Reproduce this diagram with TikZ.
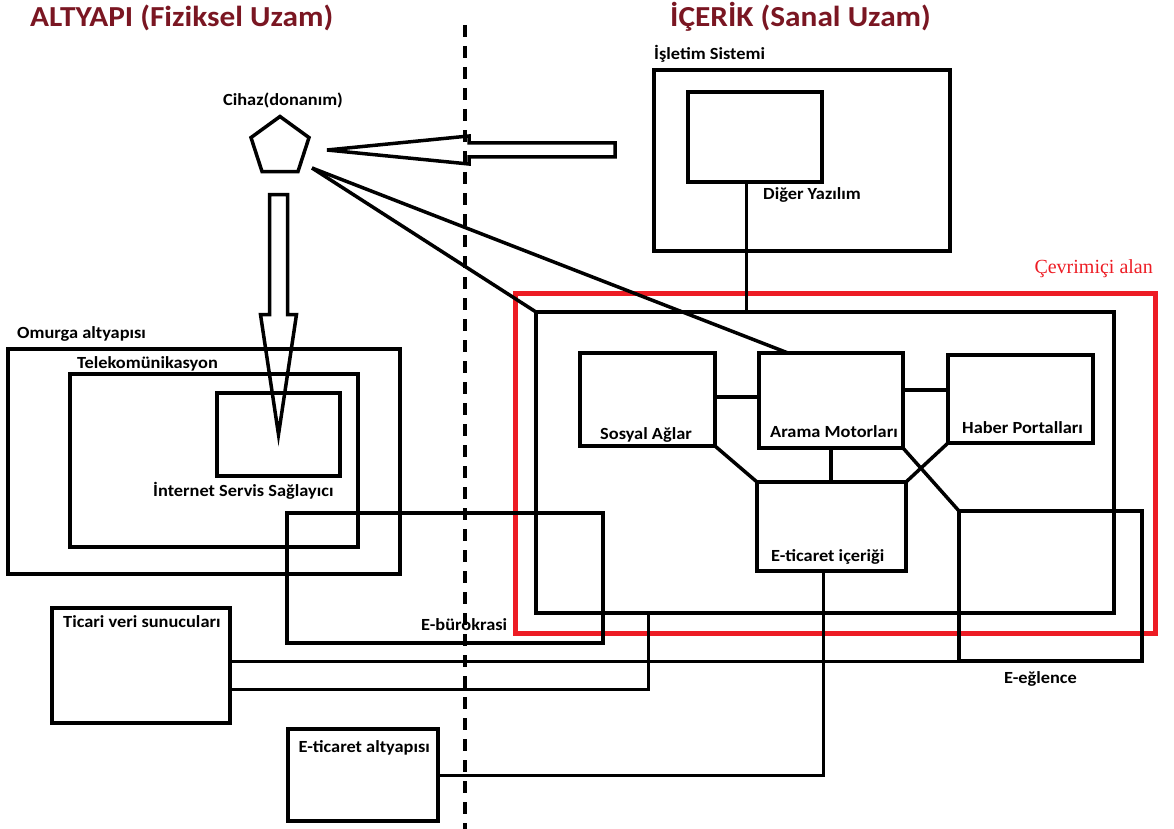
\documentclass[tikz,border=0pt]{standalone}
\usepackage{fontspec}
\setmainfont{Carlito}[FakeStretch=1.08]
\newfontfamily\serifyazi{Liberation Serif}
\usetikzlibrary{calc,shapes.geometric}
\definecolor{baslikrenk}{RGB}{122,22,34}
\definecolor{cevrimrenk}{RGB}{237,28,36}
\tikzset{
  kutu/.style={draw=black,line width=4pt,inner sep=0pt,outer sep=0pt},   % kutu
  etiket/.style={font=\fontsize{17}{20}\selectfont\bfseries,anchor=base west,inner sep=0pt},
  baslik/.style={font=\fontsize{29}{34}\selectfont\bfseries,text=baslikrenk,anchor=base west,inner sep=0pt},
  conn/.style={line width=3.5pt},
  wire/.style={line width=3pt},
  hollow/.style={draw,line width=3.5pt,line join=miter},
  divider/.style={line width=4pt,dash pattern=on 12pt off 9pt},
}

\begin{document}
\begin{tikzpicture}[x=1pt,y=-1pt]
  \useasboundingbox (0,0) rectangle (1174,829);
  % basliklar
  \node[baslik] (altyapi) at (30,27) {ALTYAPI (Fiziksel Uzam)};
  \node[baslik] (icerikbas) at (670,27) {İÇERİK (Sanal Uzam)};
  \draw[divider] (465,25) -- (465,829);

  % cevrimici alan
  \node[kutu,draw=cevrimrenk,line width=5pt,minimum width=640pt,minimum height=340pt] (cevrim) at (835,463) {};
  \node[font=\serifyazi\fontsize{20}{24}\selectfont,text=cevrimrenk,anchor=base east,inner sep=0pt] (lcevrim) at (1153,273) {Çevrimiçi alan};

  % isletim sistemi
  \node[kutu,minimum width=296pt,minimum height=181pt] (isletim) at (802,160.5) {};
  \node[kutu,minimum width=134pt,minimum height=90pt] (diger) at (755,137) {};
  \node[etiket] (lisletim) at (654,60) {İşletim Sistemi};
  \node[etiket] (ldiger) at (763,200) {Diğer Yazılım};

  % icerik
  \node[kutu,minimum width=578pt,minimum height=301pt] (icerik) at (825,462.5) {};
  \draw[conn] ([xshift=-8.5pt]diger.south) -- ([xshift=-8.5pt]diger.south |- icerik.north);
  \node[kutu,minimum width=135pt,minimum height=93pt] (sosyal) at (647.5,399.5) {};
  \node[kutu,minimum width=144pt,minimum height=95pt] (arama) at (831,400.5) {};
  \node[kutu,minimum width=145pt,minimum height=88pt] (haber) at (1020.5,399) {};
  \node[kutu,minimum width=149pt,minimum height=89pt] (eticic) at (831.5,526.5) {};
  \node[kutu,minimum width=183pt,minimum height=150pt] (eglence) at (1050.5,586) {};
  \node[etiket] (lsosyal) at (600,439) {Sosyal Ağlar};
  \node[etiket] (larama) at (770,437) {Arama Motorları};
  \node[etiket] (lhaber) at (962,433) {Haber Portalları};
  \node[etiket] (leticic) at (771,561) {E-ticaret içeriği};
  \node[etiket] (leglence) at (1004,683) {E-eğlence};
  \draw[conn] ([yshift=2.5pt]sosyal.east) -- ([yshift=2.5pt]sosyal.east -| arama.west);
  \draw[conn] ([yshift=10.5pt]arama.east) -- ([yshift=10.5pt]arama.east -| haber.west);
  \draw[conn] (arama.south) -- (arama.south |- eticic.north);
  \draw[conn] (sosyal.south east) -- (eticic.north west);
  \draw[conn] (haber.south west) -- (eticic.north east);
  \draw[conn] (arama.south east) -- (eglence.north west);

  % cihaz
  \node[etiket,anchor=base] (lcihaz) at (283,106) {Cihaz(donanım)};
  \node[draw,line width=3.5pt,regular polygon,regular polygon sides=5,minimum size=61pt,inner sep=0pt] (cihaz) at (280,147) {};
  \coordinate (htip) at (327,150);
  \coordinate (cz) at (312,168);
  \draw[hollow] (htip) -- ++(142,-14) -- ++(0,7) -- ++(146,0) -- ++(0,14) -- ++(-146,0) -- ++(0,7) -- cycle;
  \draw[conn] (cz) -- ([xshift=-43pt]arama.north);
  \draw[conn] (cz) -- (icerik.north west);

  % altyapi
  \node[etiket] (lomurga) at (17,338) {Omurga altyapısı};
  \node[kutu,minimum width=392pt,minimum height=225pt] (omurga) at (204,461.5) {};
  \node[etiket] (ltelekom) at (77,368) {Telekomünikasyon};
  \node[kutu,minimum width=288pt,minimum height=173pt] (telekom) at (214,460.5) {};
  \node[kutu,minimum width=123pt,minimum height=83pt] (isp) at (278.5,434.5) {};
  \node[etiket] (lisp) at (153,496) {İnternet Servis Sağlayıcı};
  \draw[hollow] (isp.center) -- ++(-18,-120) -- ++(9,0) -- ++(0,-120) -- ++(18,0) -- ++(0,120) -- ++(9,0) -- cycle;

  \node[kutu,line width=3.5pt,minimum width=316pt,minimum height=130pt] (burokrasi) at (445,578) {};
  \node[etiket] (lburokrasi) at (421,630) {E-bürokrasi};
  \node[kutu,minimum width=178pt,minimum height=115pt] (ticari) at (141,665.5) {};
  \node[etiket] (lticari) at (63,627) {Ticari veri sunucuları};
  \node[kutu,minimum width=150pt,minimum height=92pt] (etalt) at (363,775) {};
  \node[etiket] (letalt) at (298.5,752) {E-ticaret altyapısı};
  \draw[wire] (eglence.south west) -- (eglence.south west -| ticari.east);
  \draw[wire] ([yshift=-23.5pt]ticari.east) -| ([xshift=112pt]icerik.south west);
  \draw[wire] ([xshift=-8.5pt]eticic.south) |- (etalt.east);
\end{tikzpicture}
\end{document}
